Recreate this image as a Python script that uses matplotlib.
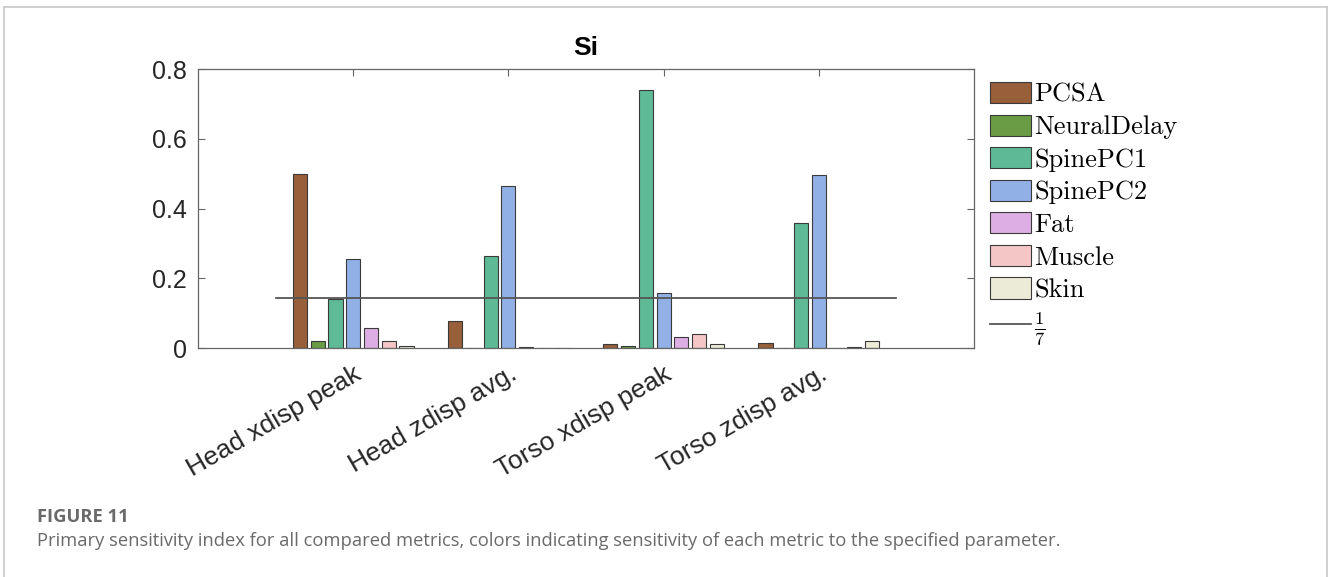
import numpy as np
import matplotlib
matplotlib.use('Agg')
import matplotlib.pyplot as plt
from matplotlib.lines import Line2D

plt.rcParams['mathtext.fontset'] = 'cm'

metrics = ['Head xdisp peak', 'Head zdisp avg.', 'Torso xdisp peak', 'Torso zdisp avg.']
params = ['PCSA', 'NeuralDelay', 'SpinePC1', 'SpinePC2', 'Fat', 'Muscle', 'Skin']

pcsa = [0.499, 0.078, 0.011, 0.014]
neural_delay = [0.021, 0.001, 0.005, 0.0]
spine_pc1 = [0.140, 0.264, 0.740, 0.357]
spine_pc2 = [0.254, 0.465, 0.158, 0.495]
fat = [0.057, 0.003, 0.032, 0.001]
muscle = [0.020, 0.0, 0.041, 0.002]
skin = [0.005, 0.0, 0.011, 0.021]

threshold = 1 / 7

colors = ['#975F3A', '#6A9B45', '#5DB996', '#91B0E5', '#DDAEE3', '#F5C6C6', '#EBEBD7']
series = [pcsa, neural_delay, spine_pc1, spine_pc2, fat, muscle, skin]

fig = plt.figure(figsize=(13.28, 5.77), dpi=100)
ax = fig.add_axes([198/1328, 1 - 348/577, (974-198)/1328, (348-69)/577])

x = np.arange(1, len(metrics) + 1)
n = len(series)
step = 0.8 / n
width = step * 0.8
handles = []
for i, vals in enumerate(series):
    b = ax.bar(x + (i - (n - 1) / 2) * step, vals, width, color=colors[i],
               edgecolor='#3a3a3a', linewidth=0.8, label=params[i], zorder=2)
    handles.append(b)

line, = ax.plot([0.5, 4.5], [threshold, threshold], color='#555555', lw=1.3, zorder=3,
                label=r'$\frac{1}{7}$')
handles.append(line)

ax.set_xlim(0, 5)
ax.set_ylim(0, 0.8)
ax.set_yticks([0, 0.2, 0.4, 0.6, 0.8])
ax.set_yticklabels(['0', '0.2', '0.4', '0.6', '0.8'])
ax.set_xticks(x)
ax.set_xticklabels(metrics, rotation=30, ha='right', rotation_mode='anchor')
ax.tick_params(direction='in', length=5, width=0.8, color='#666666',
               top=True, right=True, labelsize=18, labelcolor='#262626', pad=8)
ax.tick_params(axis='x', labelsize=19, pad=10)
for lab in ax.get_xticklabels() + ax.get_yticklabels():
    lab.set_family('Liberation Sans')
for s in ax.spines.values():
    s.set_color('#666666')
    s.set_linewidth(0.9)

ax.set_title('Si', fontsize=19, fontweight='bold', family='Liberation Sans', pad=10)

leg = ax.legend(handles=handles, loc='upper left', bbox_to_anchor=(990/1328, 1 - 82/577),
                bbox_transform=fig.transFigure, frameon=False,
                prop={'family': 'cmr10', 'size': 19}, handlelength=1.57,
                handleheight=0.85, handletextpad=0.1, labelspacing=0.3,
                borderpad=0, borderaxespad=0)

# page frame and caption
fig.add_artist(Line2D([4/1328, 4/1328], [0, 1 - 7/577], color='#c8c8c8', lw=1.2))
fig.add_artist(Line2D([4/1328, 1327/1328], [1 - 7/577, 1 - 7/577], color='#c8c8c8', lw=1.2))
fig.add_artist(Line2D([1327/1328, 1327/1328], [0, 1 - 7/577], color='#c8c8c8', lw=1.2))

fig.text(37/1328, 1 - 517/577, 'FIGURE 11', fontsize=13.2, fontweight='bold',
         color='#6a6a6a', family='Open Sans', va='center')
fig.text(37/1328, 1 - 541/577,
         'Primary sensitivity index for all compared metrics, colors indicating '
         'sensitivity of each metric to the specified parameter.',
         fontsize=13.2, color='#6a6a6a', family='Open Sans', va='center')

fig.savefig('out.png', dpi=100, facecolor='white')
